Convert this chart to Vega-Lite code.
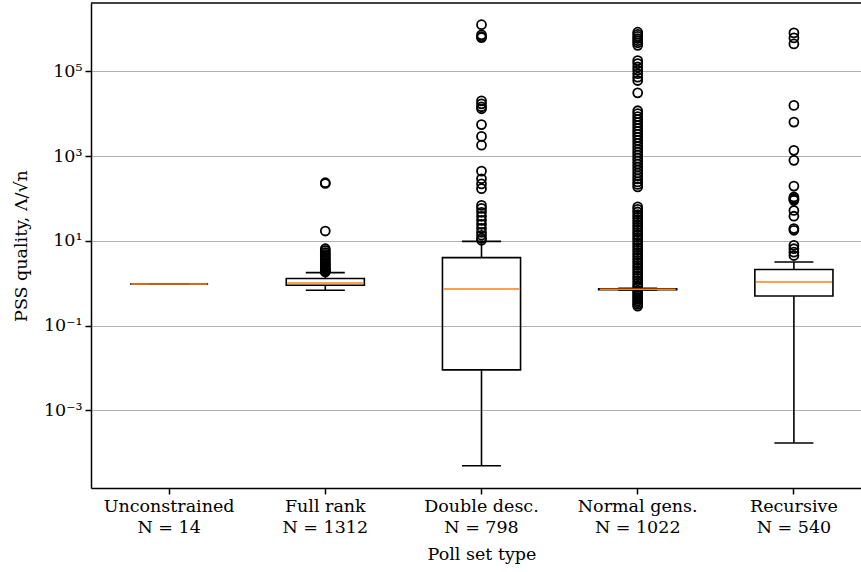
{
  "$schema": "https://vega.github.io/schema/vega-lite/v6.json",
  "width": 770,
  "height": 485,
  "autosize": {"type": "none"},
  "padding": {"left": 91, "top": 3, "right": 0, "bottom": 84},
  "background": "white",
  "config": {
    "font": "DejaVu Serif",
    "view": {"stroke": null},
    "axis": {
      "domainColor": "black", "domainWidth": 1.5,
      "tickColor": "black", "tickWidth": 1.5, "tickSize": 6,
      "labelFontSize": 17.5, "labelColor": "black",
      "titleFontSize": 17.5, "titleFontWeight": "normal", "titleColor": "black"
    }
  },
  "datasets": {
    "boxes": [
      {"type": "Unconstrained", "lower": 0.96, "q1": 0.96, "median": 0.96, "q3": 0.96, "upper": 0.96},
      {"type": "Full rank", "lower": 0.68, "q1": 0.895, "median": 1.01, "q3": 1.29, "upper": 1.78},
      {"type": "Double desc.", "lower": 0.0000495, "q1": 0.00904, "median": 0.728, "q3": 4.02, "upper": 9.7},
      {"type": "Normal gens.", "lower": 0.69, "q1": 0.705, "median": 0.72, "q3": 0.735, "upper": 0.76},
      {"type": "Recursive", "lower": 0.00017, "q1": 0.501, "median": 1.07, "q3": 2.1, "upper": 3.17}
    ],
    "outliers": [
      {"type": "Full rank", "value": 235}, {"type": "Full rank", "value": 225}, {"type": "Full rank", "value": 17},
      {"type": "Full rank", "value": 6.5}, {"type": "Full rank", "value": 5.9}, {"type": "Full rank", "value": 5.3},
      {"type": "Full rank", "value": 4.8}, {"type": "Full rank", "value": 4.4}, {"type": "Full rank", "value": 4.0},
      {"type": "Full rank", "value": 3.7}, {"type": "Full rank", "value": 3.4}, {"type": "Full rank", "value": 3.1},
      {"type": "Full rank", "value": 2.9}, {"type": "Full rank", "value": 2.7}, {"type": "Full rank", "value": 2.5},
      {"type": "Full rank", "value": 2.35}, {"type": "Full rank", "value": 2.2}, {"type": "Full rank", "value": 2.1},
      {"type": "Full rank", "value": 2.0}, {"type": "Full rank", "value": 1.9}, {"type": "Full rank", "value": 1.85},

      {"type": "Double desc.", "value": 1250000}, {"type": "Double desc.", "value": 720000}, {"type": "Double desc.", "value": 650000},
      {"type": "Double desc.", "value": 620000}, {"type": "Double desc.", "value": 20000}, {"type": "Double desc.", "value": 17000},
      {"type": "Double desc.", "value": 14500}, {"type": "Double desc.", "value": 13000}, {"type": "Double desc.", "value": 5500},
      {"type": "Double desc.", "value": 2900}, {"type": "Double desc.", "value": 1800}, {"type": "Double desc.", "value": 440},
      {"type": "Double desc.", "value": 290}, {"type": "Double desc.", "value": 220}, {"type": "Double desc.", "value": 170},
      {"type": "Double desc.", "value": 68.5}, {"type": "Double desc.", "value": 58}, {"type": "Double desc.", "value": 47},
      {"type": "Double desc.", "value": 37.8}, {"type": "Double desc.", "value": 30.4}, {"type": "Double desc.", "value": 24.5},
      {"type": "Double desc.", "value": 19.7}, {"type": "Double desc.", "value": 15.9}, {"type": "Double desc.", "value": 13.5},
      {"type": "Double desc.", "value": 11.5}, {"type": "Double desc.", "value": 10.3},

      {"type": "Normal gens.", "value": 832000}, {"type": "Normal gens.", "value": 741000}, {"type": "Normal gens.", "value": 661000},
      {"type": "Normal gens.", "value": 589000}, {"type": "Normal gens.", "value": 525000}, {"type": "Normal gens.", "value": 468000},
      {"type": "Normal gens.", "value": 407000}, {"type": "Normal gens.", "value": 178000}, {"type": "Normal gens.", "value": 151000},
      {"type": "Normal gens.", "value": 126000}, {"type": "Normal gens.", "value": 105000}, {"type": "Normal gens.", "value": 87100},
      {"type": "Normal gens.", "value": 72400}, {"type": "Normal gens.", "value": 60300}, {"type": "Normal gens.", "value": 30900},
      {"type": "Normal gens.", "value": 11700}, {"type": "Normal gens.", "value": 10000}, {"type": "Normal gens.", "value": 8511},
      {"type": "Normal gens.", "value": 7244}, {"type": "Normal gens.", "value": 6166}, {"type": "Normal gens.", "value": 5248},
      {"type": "Normal gens.", "value": 4467}, {"type": "Normal gens.", "value": 3802}, {"type": "Normal gens.", "value": 3236},
      {"type": "Normal gens.", "value": 2754}, {"type": "Normal gens.", "value": 2344}, {"type": "Normal gens.", "value": 1995},
      {"type": "Normal gens.", "value": 1698}, {"type": "Normal gens.", "value": 1445}, {"type": "Normal gens.", "value": 1230},
      {"type": "Normal gens.", "value": 1047}, {"type": "Normal gens.", "value": 891}, {"type": "Normal gens.", "value": 759},
      {"type": "Normal gens.", "value": 646}, {"type": "Normal gens.", "value": 550}, {"type": "Normal gens.", "value": 468},
      {"type": "Normal gens.", "value": 398}, {"type": "Normal gens.", "value": 339}, {"type": "Normal gens.", "value": 288},
      {"type": "Normal gens.", "value": 245}, {"type": "Normal gens.", "value": 214}, {"type": "Normal gens.", "value": 186},
      {"type": "Normal gens.", "value": 63.1}, {"type": "Normal gens.", "value": 55.0}, {"type": "Normal gens.", "value": 47.9},
      {"type": "Normal gens.", "value": 41.7}, {"type": "Normal gens.", "value": 36.3}, {"type": "Normal gens.", "value": 31.6},
      {"type": "Normal gens.", "value": 27.5}, {"type": "Normal gens.", "value": 24.0}, {"type": "Normal gens.", "value": 20.9},
      {"type": "Normal gens.", "value": 18.2}, {"type": "Normal gens.", "value": 15.8}, {"type": "Normal gens.", "value": 13.8},
      {"type": "Normal gens.", "value": 12.0}, {"type": "Normal gens.", "value": 10.5}, {"type": "Normal gens.", "value": 9.12},
      {"type": "Normal gens.", "value": 7.94}, {"type": "Normal gens.", "value": 6.92}, {"type": "Normal gens.", "value": 6.03},
      {"type": "Normal gens.", "value": 5.25}, {"type": "Normal gens.", "value": 4.57}, {"type": "Normal gens.", "value": 3.98},
      {"type": "Normal gens.", "value": 3.47}, {"type": "Normal gens.", "value": 3.02}, {"type": "Normal gens.", "value": 2.63},
      {"type": "Normal gens.", "value": 2.29}, {"type": "Normal gens.", "value": 2.0}, {"type": "Normal gens.", "value": 1.74},
      {"type": "Normal gens.", "value": 1.51}, {"type": "Normal gens.", "value": 1.32}, {"type": "Normal gens.", "value": 1.15},
      {"type": "Normal gens.", "value": 1.0}, {"type": "Normal gens.", "value": 0.871}, {"type": "Normal gens.", "value": 0.794},
      {"type": "Normal gens.", "value": 0.661}, {"type": "Normal gens.", "value": 0.603}, {"type": "Normal gens.", "value": 0.55},
      {"type": "Normal gens.", "value": 0.501}, {"type": "Normal gens.", "value": 0.457}, {"type": "Normal gens.", "value": 0.417},
      {"type": "Normal gens.", "value": 0.38}, {"type": "Normal gens.", "value": 0.347}, {"type": "Normal gens.", "value": 0.316},
      {"type": "Normal gens.", "value": 0.288},

      {"type": "Recursive", "value": 800000}, {"type": "Recursive", "value": 610000}, {"type": "Recursive", "value": 440000},
      {"type": "Recursive", "value": 15600}, {"type": "Recursive", "value": 6300}, {"type": "Recursive", "value": 1360},
      {"type": "Recursive", "value": 790}, {"type": "Recursive", "value": 195}, {"type": "Recursive", "value": 108},
      {"type": "Recursive", "value": 100}, {"type": "Recursive", "value": 95}, {"type": "Recursive", "value": 90},
      {"type": "Recursive", "value": 52}, {"type": "Recursive", "value": 38}, {"type": "Recursive", "value": 19.4},
      {"type": "Recursive", "value": 17.7}, {"type": "Recursive", "value": 7.8}, {"type": "Recursive", "value": 6.5},
      {"type": "Recursive", "value": 5.4}, {"type": "Recursive", "value": 4.5}
    ],
    "frame": [{"edge": "top"}]
  },
  "layer": [
    {
      "data": {"name": "boxes"},
      "mark": {"type": "rule", "stroke": "black", "strokeWidth": 1.6},
      "encoding": {
        "x": {
          "field": "type", "type": "nominal", "title": "Poll set type",
          "scale": {"domain": ["Unconstrained", "Full rank", "Double desc.", "Normal gens.", "Recursive"], "range": [0, 781], "paddingInner": 0, "paddingOuter": 0},
          "axis": {
            "labelAngle": 0, "labelPadding": 3, "labelLineHeight": 21, "labelBaseline": "top", "grid": false, "titlePadding": 10,
            "labelExpr": "{'Unconstrained': ['Unconstrained', 'N = 14'], 'Full rank': ['Full rank', 'N = 1312'], 'Double desc.': ['Double desc.', 'N = 798'], 'Normal gens.': ['Normal gens.', 'N = 1022'], 'Recursive': ['Recursive', 'N = 540']}[datum.label]"
          }
        },
        "y": {
          "field": "q3", "type": "quantitative", "title": "PSS quality, Λ/√n",
          "scale": {"type": "log", "domain": [0.0000148, 4060000], "nice": false},
          "axis": {
            "values": [0.001, 0.1, 10, 1000, 100000],
            "labelExpr": "datum.value < 0.01 ? '10⁻³' : datum.value < 1 ? '10⁻¹' : datum.value < 100 ? '10¹' : datum.value < 10000 ? '10³' : '10⁵'",
            "grid": true, "gridColor": "#b0b0b0", "gridWidth": 1.2, "labelPadding": 3, "titlePadding": 13, "labelOverlap": false
          }
        },
        "y2": {"field": "upper"}
      }
    },
    {
      "data": {"name": "boxes"},
      "mark": {"type": "rule", "stroke": "black", "strokeWidth": 1.6},
      "encoding": {
        "x": {"field": "type", "type": "nominal", "title": "Poll set type"},
        "y": {"field": "lower", "type": "quantitative", "title": "PSS quality, Λ/√n"},
        "y2": {"field": "q1"}
      }
    },
    {
      "data": {"name": "boxes"},
      "mark": {"type": "tick", "color": "black", "size": 39, "thickness": 1.6, "opacity": 1},
      "encoding": {
        "x": {"field": "type", "type": "nominal", "title": "Poll set type"},
        "y": {"field": "upper", "type": "quantitative", "title": "PSS quality, Λ/√n"}
      }
    },
    {
      "data": {"name": "boxes"},
      "mark": {"type": "tick", "color": "black", "size": 39, "thickness": 1.6, "opacity": 1},
      "encoding": {
        "x": {"field": "type", "type": "nominal", "title": "Poll set type"},
        "y": {"field": "lower", "type": "quantitative", "title": "PSS quality, Λ/√n"}
      }
    },
    {
      "data": {"name": "outliers"},
      "mark": {"type": "point", "shape": "circle", "filled": false, "stroke": "black", "strokeWidth": 1.8, "size": 80, "opacity": 1},
      "encoding": {
        "x": {"field": "type", "type": "nominal", "title": "Poll set type"},
        "y": {"field": "value", "type": "quantitative", "title": "PSS quality, Λ/√n"}
      }
    },
    {
      "data": {"name": "boxes"},
      "mark": {"type": "bar", "width": {"band": 0.5}, "fill": "white", "fillOpacity": 0, "stroke": "black", "strokeWidth": 1.6},
      "encoding": {
        "x": {"field": "type", "type": "nominal", "title": "Poll set type"},
        "y": {"field": "q1", "type": "quantitative", "title": "PSS quality, Λ/√n"},
        "y2": {"field": "q3"}
      }
    },
    {
      "data": {"name": "boxes"},
      "mark": {"type": "tick", "color": "#ff7f0e", "size": 76, "thickness": 1.6, "opacity": 1},
      "encoding": {
        "x": {"field": "type", "type": "nominal", "title": "Poll set type"},
        "y": {"field": "median", "type": "quantitative", "title": "PSS quality, Λ/√n"}
      }
    },
    {
      "data": {"name": "frame"},
      "mark": {"type": "rule", "stroke": "black", "strokeWidth": 1.5},
      "encoding": {
        "y": {"datum": 4060000, "type": "quantitative", "title": "PSS quality, Λ/√n"}
      }
    }
  ]
}
